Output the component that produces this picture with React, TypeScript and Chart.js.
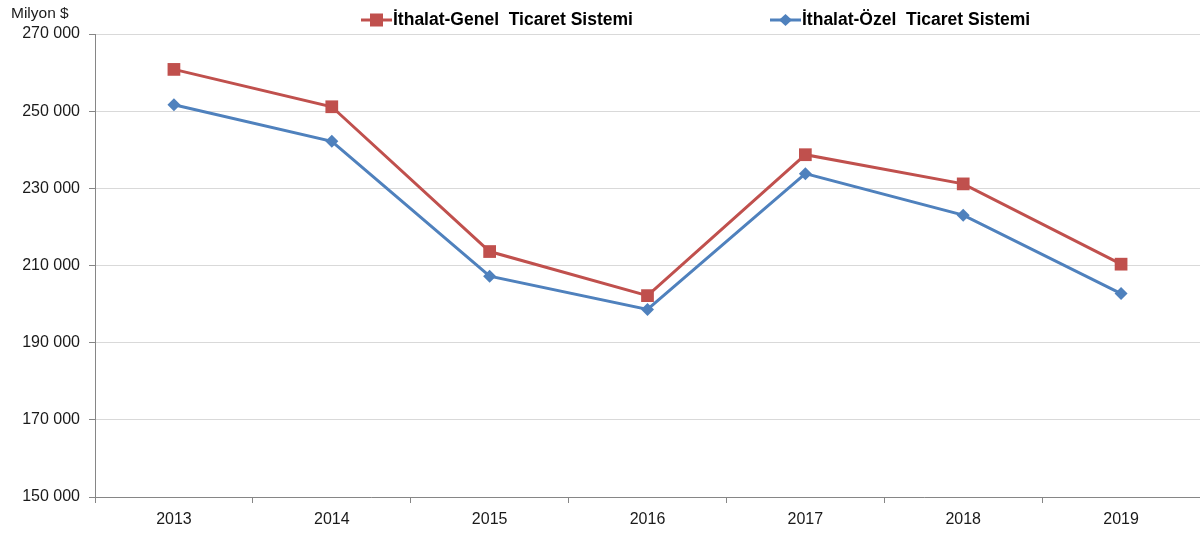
import React, { useEffect, useRef } from "react";
import { Chart, registerables } from "chart.js";

Chart.register(...registerables);

const years = ["2013", "2014", "2015", "2016", "2017", "2018", "2019"];
const genelValues = [260823, 251142, 213619, 202189, 238715, 231152, 210345];
const ozelValues = [251661, 242177, 207234, 198618, 233800, 223047, 202711];
const genelLabel = "İthalat-Genel  Ticaret Sistemi";
const ozelLabel = "İthalat-Özel  Ticaret Sistemi";
const yTitle = "Milyon $";

const RED = "#C0504D";
const BLUE = "#4F81BD";
const FONT = "'Liberation Sans', Arial, sans-serif";

const fmt = (v: number) => {
  const s = Math.round(v).toString();
  return s.replace(/\B(?=(\d{3})+(?!\d))/g, " ");
};

const overlayPlugin = {
  id: "overlay",
  afterDraw(chart: any) {
    const ctx = chart.ctx;
    ctx.save();
    ctx.fillStyle = "#1a1a1a";
    ctx.font = `15.5px ${FONT}`;
    ctx.textBaseline = "middle";
    ctx.textAlign = "left";
    ctx.fillText(yTitle, 11, 14);

    const items = [
      { x: 361, label: genelLabel, color: RED, style: "rect" },
      { x: 770, label: ozelLabel, color: BLUE, style: "rectRot" },
    ];
    const y = 20;
    for (const it of items) {
      ctx.strokeStyle = it.color;
      ctx.lineWidth = 3;
      ctx.beginPath();
      ctx.moveTo(it.x, y);
      ctx.lineTo(it.x + 31, y);
      ctx.stroke();
      ctx.fillStyle = it.color;
      const cx = it.x + 15.5;
      if (it.style === "rect") {
        ctx.fillRect(cx - 6.5, y - 6.5, 13, 13);
      } else {
        ctx.beginPath();
        ctx.moveTo(cx, y - 6);
        ctx.lineTo(cx + 6.5, y);
        ctx.lineTo(cx, y + 6);
        ctx.lineTo(cx - 6.5, y);
        ctx.closePath();
        ctx.fill();
      }
      ctx.fillStyle = "#000";
      ctx.font = `bold 17.5px ${FONT}`;
      ctx.textAlign = "left";
      ctx.fillText(it.label, it.x + 32, y);
    }
    ctx.restore();
  },
};

export default function App() {
  const ref = useRef<HTMLCanvasElement | null>(null);
  useEffect(() => {
    document.body.style.margin = "0";
    const canvas = ref.current!;
    const chart = new Chart(canvas, {
      type: "line",
      data: {
        labels: years,
        datasets: [
          {
            label: genelLabel,
            data: genelValues,
            borderColor: RED,
            backgroundColor: RED,
            borderWidth: 3,
            pointStyle: "rect",
            pointRadius: 9,
            pointHoverRadius: 9,
            pointBorderWidth: 0,
            tension: 0,
          },
          {
            label: ozelLabel,
            data: ozelValues,
            borderColor: BLUE,
            backgroundColor: BLUE,
            borderWidth: 3,
            pointStyle: "rectRot",
            pointRadius: 6.5,
            pointHoverRadius: 6.5,
            pointBorderWidth: 0,
            tension: 0,
          },
        ],
      },
      options: {
        animation: false,
        responsive: false,
        maintainAspectRatio: false,
        layout: { padding: { top: 34, left: 0, right: 0, bottom: 0 } },
        plugins: {
          legend: { display: false },
          tooltip: { enabled: false },
        },
        scales: {
          x: {
            type: "category",
            offset: true,
            grid: {
              offset: true,
              drawOnChartArea: false,
              drawTicks: true,
              tickLength: 6,
              color: "#868686",
              tickColor: "#868686",
            },
            border: { color: "#868686", width: 1 },
            ticks: {
              color: "#1a1a1a",
              font: { family: FONT, size: 16 },
              padding: 7,
              maxRotation: 0,
            },
            afterFit(scale: any) {
              scale.height = 40;
            },
          },
          y: {
            min: 150000,
            max: 270000,
            grid: {
              color: "#d9d9d9",
              tickColor: "#868686",
              tickLength: 6,
            },
            border: { color: "#868686", width: 1 },
            ticks: {
              stepSize: 20000,
              color: "#1a1a1a",
              font: { family: FONT, size: 16 },
              padding: 9,
              callback: (v: any) => fmt(Number(v)),
            },
            afterFit(scale: any) {
              scale.width = 95;
            },
          },
        },
      },
      plugins: [overlayPlugin],
    });
    return () => chart.destroy();
  }, []);
  return (
    <div style={{ width: 1200, height: 537, position: "relative", overflow: "hidden" }}>
      <canvas ref={ref} width={1209} height={537} style={{ display: "block" }} />
    </div>
  );
}
